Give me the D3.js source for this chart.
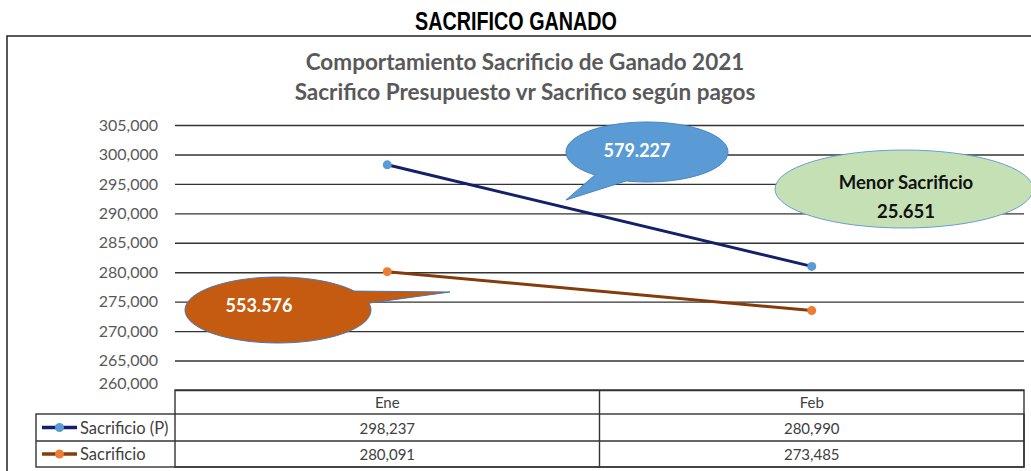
<!DOCTYPE html>
<html>
<head>
<meta charset="utf-8">
<script src="https://cdn.jsdelivr.net/npm/d3@7"></script>
<style>
  body { margin: 0; background: #fff; }
  svg { display: block; }
</style>
</head>
<body>
<script>
// Data
const months = ["Ene", "Feb"];
const seriesNames = ["Sacrificio (P)", "Sacrificio"];
const presupuesto = [298237, 280990];
const sacrificio = [280091, 273485];
const yTicks = [260000, 265000, 270000, 275000, 280000, 285000, 290000, 295000, 300000, 305000];

const W = 1031, H = 471;
const plot = {left: 175, right: 1024, top: 125, bottom: 390};
const lineColors = ["#14206a", "#843c0c"];
const dotColors = ["#5b9bd5", "#ed7d31"];
const font = "Lato, 'Open Sans', sans-serif";

let svg = d3.select("body").append("svg")
    .attr("width", W)
    .attr("height", H);

// Page title (condensed look)
svg.append("text")
    .attr("transform", "translate(516,30) scale(0.76,1)")
    .attr("text-anchor", "middle")
    .style("font-family", "'Liberation Sans Narrow', 'Arial Narrow', 'Liberation Sans', sans-serif")
    .style("font-weight", "bold")
    .style("font-size", "26px")
    .attr("fill", "#000")
    .text("SACRIFICO GANADO");

// Chart frame (open to the right / bottom)
svg.append("path")
    .attr("d", "M7,471 V36 H1031")
    .attr("fill", "none")
    .attr("stroke", "#222")
    .attr("stroke-width", 1.5);

// Chart titles
svg.append("text")
    .attr("x", 525).attr("y", 70)
    .attr("text-anchor", "middle")
    .style("font-family", font).style("font-weight", "bold").style("font-size", "22.5px")
    .attr("fill", "#595959")
    .text("Comportamiento Sacrificio de Ganado 2021");
svg.append("text")
    .attr("x", 525).attr("y", 100)
    .attr("text-anchor", "middle")
    .style("font-family", font).style("font-weight", "bold").style("font-size", "22.5px")
    .attr("fill", "#595959")
    .text("Sacrifico Presupuesto vr Sacrifico según pagos");

// Scales
let x = d3.scaleBand().domain(months).range([plot.left, plot.right]);
let y = d3.scaleLinear().domain([260000, 305000]).range([plot.bottom, plot.top]);

// Y axis with gridlines
let yAxis = svg.append("g")
    .attr("transform", "translate(" + plot.left + ",0)")
    .call(d3.axisLeft(y).tickValues(yTicks)
      .tickSize(-(plot.right - plot.left))
      .tickPadding(17)
      .tickFormat(d3.format(",")));
yAxis.select(".domain").remove();
yAxis.selectAll(".tick line").attr("stroke", "#333").attr("stroke-width", 1.4);
yAxis.selectAll(".tick text")
    .attr("fill", "#595959")
    .style("font-family", font)
    .style("font-size", "16px");
yAxis.selectAll(".tick")
    .filter(d => d === 260000)
    .select("text").attr("dy", "-0.1em");

// Lines + markers
let series = [presupuesto, sacrificio];
let line = d3.line()
    .x((d, i) => x(months[i]) + x.bandwidth() / 2)
    .y(d => y(d));

series.forEach(function(vals, s) {
  svg.append("path")
      .datum(vals)
      .attr("d", line)
      .attr("fill", "none")
      .attr("stroke", lineColors[s])
      .attr("stroke-width", 3);
  svg.selectAll(".dot" + s)
      .data(vals)
    .enter().append("circle")
      .attr("cx", (d, i) => x(months[i]) + x.bandwidth() / 2)
      .attr("cy", d => y(d))
      .attr("r", 4.5)
      .attr("fill", dotColors[s]);
});

// Data table
const rowY = [390, 414, 441, 467];
const tLeft = 36;
let tbl = svg.append("g")
    .attr("stroke", "#333")
    .attr("stroke-width", 1.4)
    .attr("fill", "none");
tbl.append("rect")
    .attr("x", plot.left).attr("y", rowY[0])
    .attr("width", plot.right - plot.left).attr("height", rowY[3] - rowY[0]);
tbl.append("rect")
    .attr("x", tLeft).attr("y", rowY[1])
    .attr("width", plot.right - tLeft).attr("height", rowY[3] - rowY[1]);
tbl.append("line")
    .attr("x1", tLeft).attr("x2", plot.right)
    .attr("y1", rowY[2]).attr("y2", rowY[2]);
months.forEach(function(m, i) {
  if (i > 0) {
    tbl.append("line")
        .attr("x1", x(m)).attr("x2", x(m))
        .attr("y1", rowY[0]).attr("y2", rowY[3]);
  }
});

let cellText = function(tx, ty, txt, anchor, size) {
  svg.append("text")
      .attr("x", tx).attr("y", ty)
      .attr("text-anchor", anchor || "middle")
      .attr("dominant-baseline", "central")
      .style("font-family", font)
      .style("font-size", (size || 15) + "px")
      .attr("fill", "#404040")
      .text(txt);
};

months.forEach(function(m, i) {
  let cx = x(m) + x.bandwidth() / 2;
  cellText(cx, (rowY[0] + rowY[1]) / 2, m);
  series.forEach(function(vals, s) {
    cellText(cx, (rowY[s + 1] + rowY[s + 2]) / 2, d3.format(",")(vals[i]));
  });
});

seriesNames.forEach(function(name, s) {
  let cy = (rowY[s + 1] + rowY[s + 2]) / 2;
  svg.append("line")
      .attr("x1", 42).attr("x2", 77)
      .attr("y1", cy).attr("y2", cy)
      .attr("stroke", lineColors[s]).attr("stroke-width", 3.5);
  svg.append("circle")
      .attr("cx", 59.5).attr("cy", cy).attr("r", 4.5)
      .attr("fill", dotColors[s]);
  cellText(80, cy, name, "start", 16.5);
});

// Callouts
function callout(cx, cy, rx, ry, tailA, tailB, tip, fill, stroke) {
  // ellipse outline with a pointed tail between two angles
  let a0 = tailA * Math.PI / 180, a1 = tailB * Math.PI / 180;
  let p = d3.path();
  p.moveTo(cx + rx * Math.cos(a1), cy + ry * Math.sin(a1));
  let n = 80;
  let span = 2 * Math.PI - ((a1 - a0 + 2 * Math.PI) % (2 * Math.PI));
  for (let k = 1; k <= n; k++) {
    let a = a1 + span * k / n;
    p.lineTo(cx + rx * Math.cos(a), cy + ry * Math.sin(a));
  }
  p.lineTo(tip[0], tip[1]);
  p.closePath();
  svg.append("path")
      .attr("d", p.toString())
      .attr("fill", fill)
      .attr("stroke", stroke)
      .attr("stroke-width", 1);
}

function label(tx, ty, txt, color, size) {
  svg.append("text")
      .attr("x", tx).attr("y", ty)
      .attr("text-anchor", "middle")
      .attr("dominant-baseline", "central")
      .style("font-family", font)
      .style("font-weight", "bold")
      .style("font-size", size + "px")
      .attr("fill", color)
      .text(txt);
}

// Blue callout
callout(647, 152, 81, 30, 105, 130, [566, 200], "#5b9bd5", "#4a86c0");
label(637, 150, "579.227", "#fff", 18);

// Green callout (no tail)
svg.append("ellipse")
    .attr("cx", 904).attr("cy", 189).attr("rx", 129).attr("ry", 39)
    .attr("fill", "#c5e0b4").attr("stroke", "#6a9fd0").attr("stroke-width", 1);
label(906, 182, "Menor Sacrificio", "#111", 18.5);
label(906, 211, "25.651", "#111", 18.5);

// Orange callout
callout(278, 310, 93, 33, -35, -12, [450, 292], "#c55a11", "#4a79b0");
label(259, 305, "553.576", "#fff", 18);
</script>
</body>
</html>
